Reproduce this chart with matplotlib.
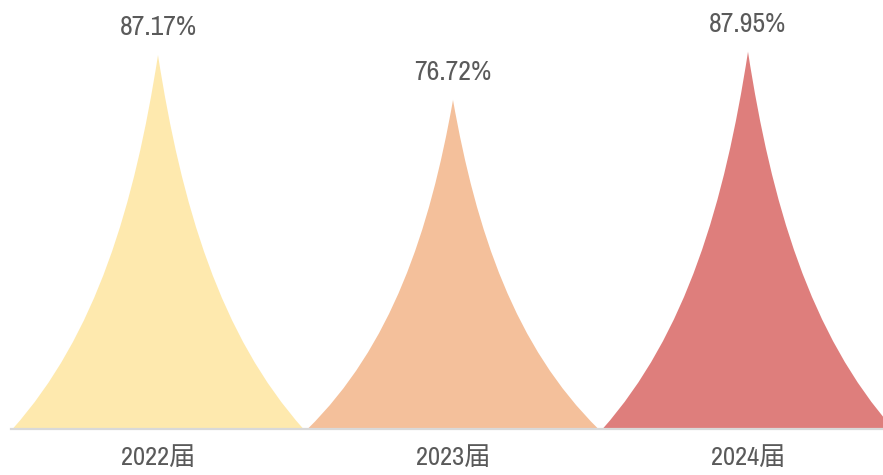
import matplotlib
matplotlib.use('Agg')
import matplotlib.pyplot as plt
from matplotlib.path import Path
from matplotlib.patches import PathPatch

# data
categories = ['2022届', '2023届', '2024届']
values = [87.17, 76.72, 87.95]
colors = ['#FEE9AE', '#F4C09B', '#DE7E7C']

FONT = ['Archivo Narrow', 'Noto Sans CJK SC', 'DejaVu Sans']
TEXT_COLOR = '#5a5a5a'


def peak_path(xc, h, w):
    # concave "peak" shape, left side then right side as cubic beziers
    verts = [
        (xc - w, 0),
        (xc - 0.425 * w, 0.25 * h), (xc - 0.16 * w, 0.6 * h), (xc, h),
        (xc + 0.16 * w, 0.6 * h), (xc + 0.425 * w, 0.25 * h), (xc + w, 0),
        (xc - w, 0),
    ]
    codes = [Path.MOVETO,
             Path.CURVE4, Path.CURVE4, Path.CURVE4,
             Path.CURVE4, Path.CURVE4, Path.CURVE4,
             Path.CLOSEPOLY]
    return Path(verts, codes)


fig = plt.figure(figsize=(8.83, 4.75), dpi=100)
W, H = 883, 475
left_px, right_px = 10.5, 895.5
bottom_px, top_px = 475 - 429.3, 475 - 0.0
ax = fig.add_axes([left_px / W, bottom_px / H, (right_px - left_px) / W, (top_px - bottom_px) / H])

for i, (v, c) in enumerate(zip(values, colors)):
    ax.add_patch(PathPatch(peak_path(i, v, 0.494), facecolor=c, edgecolor='none'))
    ax.annotate(f'{v:.2f}%', xy=(i, v), xytext=(0, 14.5), textcoords='offset points',
                ha='center', va='baseline', fontsize=20, color=TEXT_COLOR, family=FONT)

ax.set_xlim(-0.5, len(categories) - 0.5)
ax.set_ylim(0, 100)
ax.set_xticks(range(len(categories)))
ax.set_xticklabels(categories, family=FONT, fontsize=19, color=TEXT_COLOR)
ax.tick_params(axis='x', length=0, pad=12)
ax.set_yticks([])
for s in ['top', 'right', 'left']:
    ax.spines[s].set_visible(False)
ax.spines['bottom'].set_color('#D9D9D9')
ax.spines['bottom'].set_linewidth(1.6)
ax.set_facecolor('none')

fig.savefig('out.png', dpi=100)
